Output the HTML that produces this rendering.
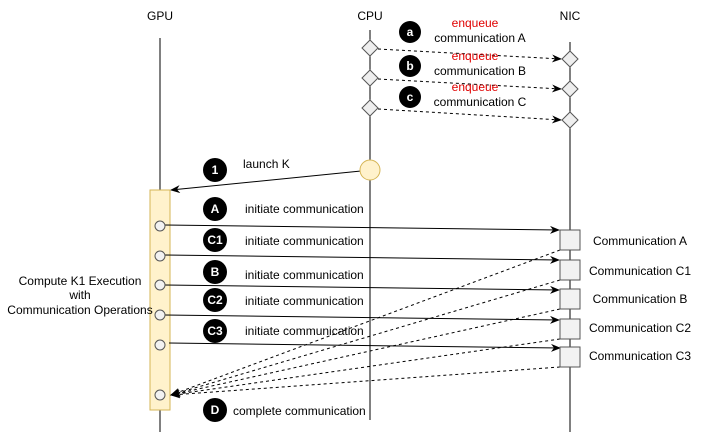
<!DOCTYPE html>
<html><head><meta charset="utf-8"><style>
body{margin:0;background:#fff}
text{font-family:"Liberation Sans",Arial,sans-serif;font-size:12px;fill:#000}
.b{fill:#fff;font-weight:bold;font-size:12px;text-anchor:middle}
.r{fill:#e00000}
</style></head><body>
<svg width="701" height="432" viewBox="0 0 701 432" xmlns="http://www.w3.org/2000/svg">
<defs>
<marker id="ar" markerWidth="10" markerHeight="8" refX="9" refY="4" orient="auto" markerUnits="userSpaceOnUse"><path d="M0,0 L10,4 L0,8 L3,4 Z" fill="#000"/></marker>
</defs>
<text x="160" y="20" text-anchor="middle">GPU</text>
<text x="370" y="20" text-anchor="middle">CPU</text>
<text x="570" y="20" text-anchor="middle">NIC</text>
<line x1="160" y1="38" x2="160" y2="432" stroke="#000"/>
<line x1="370" y1="30" x2="370" y2="420" stroke="#000"/>
<line x1="570" y1="42" x2="570" y2="432" stroke="#000"/>
<!-- enqueue -->
<g stroke="#000" stroke-dasharray="3,3" fill="none">
<line x1="378" y1="49" x2="561" y2="59" marker-end="url(#ar)"/>
<line x1="378" y1="79" x2="561" y2="89" marker-end="url(#ar)"/>
<line x1="378" y1="109" x2="561" y2="120" marker-end="url(#ar)"/>
</g>
<g fill="#eee" stroke="#555">
<path d="M370,40 L378,48 L370,56 L362,48Z"/><path d="M370,70 L378,78 L370,86 L362,78Z"/><path d="M370,100 L378,108 L370,116 L362,108Z"/>
<path d="M570,51 L578,59 L570,67 L562,59Z"/><path d="M570,81 L578,89 L570,97 L562,89Z"/><path d="M570,112 L578,120 L570,128 L562,120Z"/>
</g>
<circle cx="410" cy="32" r="11"/><text class="b" x="410" y="36">a</text>
<circle cx="410" cy="66" r="11"/><text class="b" x="410" y="70">b</text>
<circle cx="410" cy="97" r="11"/><text class="b" x="410" y="101">c</text>
<text class="r" x="475" y="27" text-anchor="middle">enqueue</text>
<text x="480" y="42" text-anchor="middle">communication A</text>
<text class="r" x="475" y="60" text-anchor="middle">enqueue</text>
<text x="480" y="75" text-anchor="middle">communication B</text>
<text class="r" x="475" y="91" text-anchor="middle">enqueue</text>
<text x="480" y="106" text-anchor="middle">communication C</text>
<!-- launch -->
<line x1="361" y1="171" x2="171" y2="190" stroke="#000" marker-end="url(#ar)"/>
<circle cx="370" cy="170" r="10" fill="#fff2cc" stroke="#d6b656"/>
<circle cx="215" cy="170" r="12"/><text class="b" x="215" y="174">1</text>
<text x="243" y="168">launch K</text>
<rect x="150" y="190" width="20" height="220" fill="#fff2cc" stroke="#d6b656"/>
<!-- initiate arrows -->
<g stroke="#000">
<line x1="165" y1="225" x2="559" y2="230" marker-end="url(#ar)"/>
<line x1="165" y1="255" x2="559" y2="260" marker-end="url(#ar)"/>
<line x1="165" y1="285" x2="559" y2="290" marker-end="url(#ar)"/>
<line x1="165" y1="315" x2="559" y2="320" marker-end="url(#ar)"/>
<line x1="169" y1="343" x2="560" y2="348" marker-end="url(#ar)"/>
</g>
<g stroke="#000" stroke-dasharray="3,3">
<line x1="560" y1="250" x2="171" y2="395" marker-end="url(#ar)"/>
<line x1="560" y1="280" x2="171" y2="395" marker-end="url(#ar)"/>
<line x1="560" y1="309" x2="171" y2="395" marker-end="url(#ar)"/>
<line x1="560" y1="339" x2="171" y2="395" marker-end="url(#ar)"/>
<line x1="560" y1="367" x2="171" y2="395" marker-end="url(#ar)"/>
</g>
<g fill="#f2f2f2" stroke="#555">
<circle cx="160" cy="226" r="5"/><circle cx="160" cy="256" r="5"/><circle cx="160" cy="285" r="5"/><circle cx="160" cy="315" r="5"/><circle cx="160" cy="345" r="5"/><circle cx="160" cy="395" r="5"/>
<rect x="560" y="230" width="20" height="20"/><rect x="560" y="260" width="20" height="20"/><rect x="560" y="289" width="20" height="20"/><rect x="560" y="319" width="20" height="20"/><rect x="560" y="347" width="20" height="20"/>
</g>
<circle cx="215" cy="209" r="12"/><text class="b" x="215" y="213">A</text>
<circle cx="215" cy="240" r="12"/><text class="b" x="215" y="244">C1</text>
<circle cx="215" cy="272" r="12"/><text class="b" x="215" y="276">B</text>
<circle cx="215" cy="300" r="12"/><text class="b" x="215" y="304">C2</text>
<circle cx="215" cy="331" r="12"/><text class="b" x="215" y="335">C3</text>
<circle cx="215" cy="410" r="12"/><text class="b" x="215" y="414">D</text>
<text x="245" y="213">initiate communication</text>
<text x="245" y="245">initiate communication</text>
<text x="245" y="279">initiate communication</text>
<text x="245" y="305">initiate communication</text>
<text x="245" y="335">initiate communication</text>
<text x="233" y="415">complete communication</text>
<text x="80" y="285" text-anchor="middle">Compute K1 Execution</text>
<text x="80" y="299" text-anchor="middle">with</text>
<text x="80" y="314" text-anchor="middle">Communication Operations</text>
<text x="640" y="245" text-anchor="middle">Communication A</text>
<text x="640" y="275" text-anchor="middle">Communication C1</text>
<text x="640" y="303" text-anchor="middle">Communication B</text>
<text x="640" y="332" text-anchor="middle">Communication C2</text>
<text x="640" y="360" text-anchor="middle">Communication C3</text>
</svg>
</body></html>
